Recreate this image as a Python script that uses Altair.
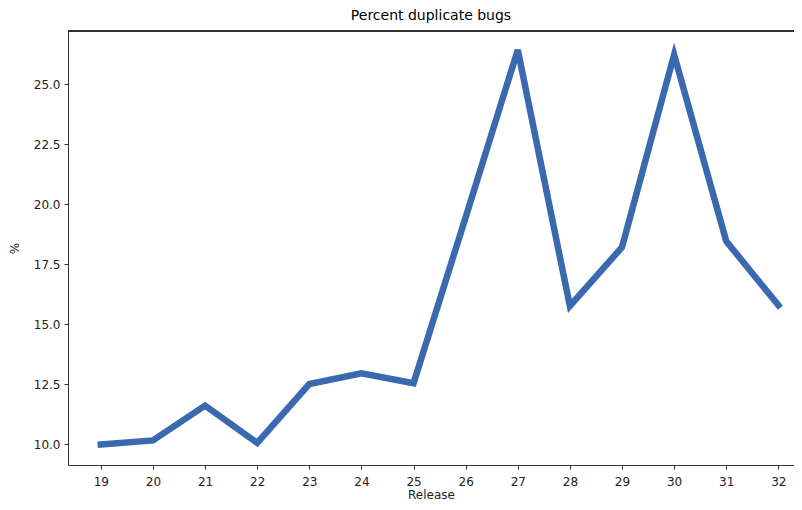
import altair as alt
import pandas as pd

releases = [19, 20, 21, 22, 23, 24, 25, 26, 27, 28, 29, 30, 31, 32]
pct_dup = [9.98, 10.15, 11.6, 10.05, 12.5, 12.95, 12.53, 19.45, 26.42, 15.75, 18.2, 26.22, 18.45, 15.78]
y_ticks = [10.0, 12.5, 15.0, 17.5, 20.0, 22.5, 25.0]

df = pd.DataFrame({"Release": releases, "pct": pct_dup})

x_scale = alt.Scale(domain=[18.37, 32.3], nice=False, zero=False)
y_scale = alt.Scale(domain=[9.125, 27.21], nice=False, zero=False)

line = alt.Chart(df).mark_line(
    color="#3a69b0", strokeWidth=6.5, strokeCap="square", strokeJoin="miter"
).encode(
    x=alt.X("Release:Q", scale=x_scale,
            axis=alt.Axis(values=releases, format="d", title="Release",
                          grid=False, tickSize=4, labelPadding=7, titlePadding=2)),
    y=alt.Y("pct:Q", scale=y_scale,
            axis=alt.Axis(values=y_ticks, format=".1f", title="%",
                          grid=False, tickSize=4, labelPadding=4, titlePadding=12)),
)

top_spine = alt.Chart(df).mark_rule(color="#333", strokeWidth=1).encode(
    x=alt.value(0), x2=alt.value(800), y=alt.value(0)
)

chart = alt.layer(line, top_spine).properties(
    width=726, height=434,
    title=alt.TitleParams("Percent duplicate bugs", fontSize=14, fontWeight="normal",
                          color="#000", font="DejaVu Sans", offset=8),
    autosize=alt.AutoSizeParams(type="none"),
    padding={"left": 60, "top": 23, "right": 0, "bottom": 37},
).configure_view(
    strokeWidth=0
).configure_axis(
    labelFont="DejaVu Sans", titleFont="DejaVu Sans", labelFontSize=12, titleFontSize=12,
    labelColor="#222", titleColor="#222", titleFontWeight="normal",
    domainColor="#333", tickColor="#333"
)

chart.save("out.html", embed_options={"renderer": "svg", "actions": False})
